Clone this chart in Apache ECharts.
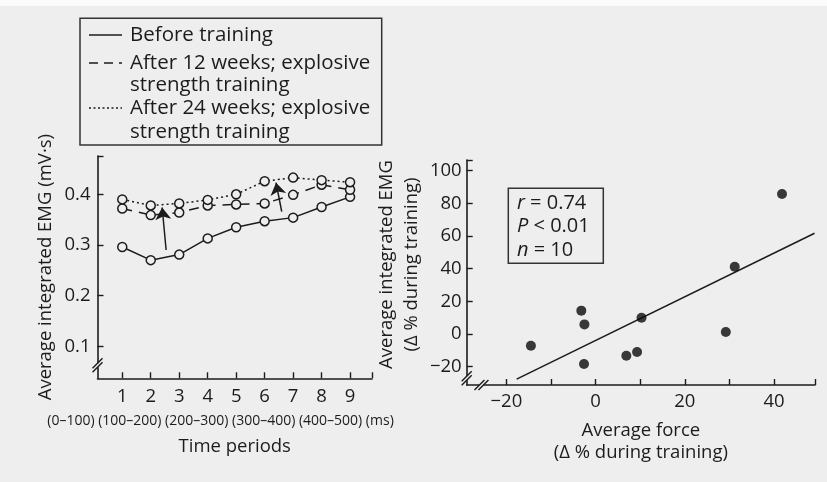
<!DOCTYPE html>
<html>
<head>
<meta charset="utf-8">
<script src="https://cdn.jsdelivr.net/npm/echarts@6/dist/echarts.min.js"></script>
<style>
  html, body { margin: 0; padding: 0; background: #eeeeee; }
  #top { height: 6px; background: #fbfbfb; }
  #chart { width: 827px; height: 476px; }
</style>
</head>
<body>
<div id="top"></div>
<div id="chart"></div>
<script>
// Left panel: integrated EMG per 50 ms time period
const periods = [1, 2, 3, 4, 5, 6, 7, 8, 9];
const beforeTraining = [0.296, 0.270, 0.281, 0.313, 0.335, 0.347, 0.354, 0.375, 0.395];
const after12Weeks   = [0.372, 0.359, 0.364, 0.378, 0.380, 0.382, 0.399, 0.419, 0.409];
const after24Weeks   = [0.390, 0.378, 0.382, 0.389, 0.400, 0.426, 0.433, 0.428, 0.424];
const emgTicks = [0.1, 0.2, 0.3, 0.4];
const periodRanges = '(0\u2013100) (100\u2013200) (200\u2013300) (300\u2013400) (400\u2013500) (ms)';
// arrows showing the training shift (tail -> head, in period / mV·s units)
const arrowTails = [[2.54, 0.290], [6.60, 0.366]];
const arrowHeads = [[2.40, 0.374], [6.40, 0.423]];

// Right panel: change in force vs change in EMG, one point per subject
const forceChange = [-14.5, -3.2, -2.5, -2.6, 6.9, 9.3, 10.3, 29.2, 31.2, 41.8];
const emgChange   = [-7.2, 14.3, 5.9, -18.4, -13.3, -11.0, 10.0, 1.2, 41.2, 85.7];
const fitLineX = [-17.7, 49.1];
const fitLineY = [-27.6, 61.7];
const forceTicks = [-20, 0, 20, 40];
const forceMinorTicks = [-20, -10, 0, 10, 20, 30, 40];
const emgChangeTicks = [-20, 0, 20, 40, 60, 80, 100];

const INK = '#1c1c1c';
const BG = '#eeeeee';
const FONT = '"Open Sans", "Noto Sans", sans-serif';

const chart = echarts.init(document.getElementById('chart'), null, { renderer: 'canvas' });

const L = { xMin: 0.13, xMax: 9.77, yMin: 0.0367, yMax: 0.4757 };
const R = { xMin: -28.9, xMax: 49.2, yMin: -31.2, yMax: 106.5 };

const minusFmt = v => (v < 0 ? '\u2212' + Math.abs(v) : String(v));
const pairs = (xs, ys) => xs.map((x, i) => [x, ys[i]]);

function axisBase(extra) {
  return Object.assign({
    type: 'value',
    splitLine: { show: false },
    axisLine: { show: true, onZero: false, lineStyle: { color: INK, width: 1.6 } },
    axisTick: { show: true, inside: true, length: 6, lineStyle: { color: INK, width: 1.4 } },
    axisLabel: { color: INK, fontFamily: FONT, fontSize: 18.5 },
    nameTextStyle: { color: INK, fontFamily: FONT, fontSize: 18.5 }
  }, extra);
}

const lineSeries = (name, values, dash) => ({
  name,
  type: 'line',
  xAxisIndex: 0, yAxisIndex: 0,
  data: pairs(periods, values),
  symbol: 'circle',
  symbolSize: 9,
  itemStyle: { color: BG, borderColor: INK, borderWidth: 1.5 },
  lineStyle: { color: INK, width: 1.5, type: dash },
  z: 3
});

const option = {
  backgroundColor: BG,
  animation: false,
  grid: [
    { left: 97.5, top: 150, width: 274.5, height: 222.3 },
    { left: 466.7, top: 154, width: 348.3, height: 225 }
  ],
  xAxis: [
    axisBase({
      gridIndex: 0, min: L.xMin, max: L.xMax,
      axisTick: { show: true, inside: true, length: 6, customValues: periods.concat([L.xMax]), lineStyle: { color: INK, width: 1.4 } },
      axisLabel: { color: INK, fontFamily: FONT, fontSize: 18.5, margin: 9, customValues: periods },
      name: 'Time periods', nameLocation: 'middle', nameGap: 59
    }),
    axisBase({
      gridIndex: 1, min: R.xMin, max: R.xMax,
      axisTick: { show: true, inside: true, length: 6, customValues: forceMinorTicks.concat([R.xMax]), lineStyle: { color: INK, width: 1.4 } },
      axisLabel: { color: INK, fontFamily: FONT, fontSize: 18.5, margin: 7, customValues: forceTicks, formatter: minusFmt },
      name: 'Average force\n(\u0394 % during training)', nameLocation: 'middle', nameGap: 35,
      nameTextStyle: { color: INK, fontFamily: FONT, fontSize: 18.5, lineHeight: 22 }
    })
  ],
  yAxis: [
    axisBase({
      gridIndex: 0, min: L.yMin, max: L.yMax,
      axisTick: { show: true, inside: true, length: 6, customValues: emgTicks.concat([L.yMax]), lineStyle: { color: INK, width: 1.4 } },
      axisLabel: { color: INK, fontFamily: FONT, fontSize: 18.5, margin: 7, customValues: emgTicks },
      name: 'Average integrated EMG (mV\u00b7s)', nameLocation: 'middle', nameGap: 42
    }),
    axisBase({
      gridIndex: 1, min: R.yMin, max: R.yMax,
      axisTick: { show: true, inside: true, length: 6, customValues: emgChangeTicks.concat([R.yMax]), lineStyle: { color: INK, width: 1.4 } },
      axisLabel: { color: INK, fontFamily: FONT, fontSize: 18.5, margin: 5, customValues: emgChangeTicks, formatter: minusFmt },
      name: 'Average integrated EMG\n(\u0394 % during training)', nameLocation: 'middle', nameGap: 42,
      nameTextStyle: { color: INK, fontFamily: FONT, fontSize: 18.5, lineHeight: 25, padding: [0, 0, 0, 16] }
    })
  ],
  series: [
    lineSeries('Before training', beforeTraining, 'solid'),
    lineSeries('After 12 weeks; explosive strength training', after12Weeks, [10, 7]),
    lineSeries('After 24 weeks; explosive strength training', after24Weeks, [2, 3]),
    {
      name: 'training shift',
      type: 'lines',
      coordinateSystem: 'cartesian2d',
      xAxisIndex: 0, yAxisIndex: 0,
      data: arrowTails.map((t, i) => ({ coords: [t, arrowHeads[i]] })),
      symbol: ['none', 'arrow'],
      symbolSize: 12,
      lineStyle: { color: INK, width: 1.5, opacity: 1 },
      z: 4
    },
    {
      name: 'regression',
      type: 'line',
      xAxisIndex: 1, yAxisIndex: 1,
      data: pairs(fitLineX, fitLineY),
      symbol: 'none',
      lineStyle: { color: INK, width: 1.5 },
      z: 2
    },
    {
      name: 'subjects',
      type: 'scatter',
      xAxisIndex: 1, yAxisIndex: 1,
      data: pairs(forceChange, emgChange),
      symbol: 'circle',
      symbolSize: 10,
      itemStyle: { color: '#0a0a0a' },
      z: 3
    }
  ]
};

chart.setOption(option);

// Decorations: legend box, statistics box, period ranges, axis break marks
function breakMarks(cx, cy, dir) {
  // two short parallel slashes across an axis with the axis hidden between them
  const els = [];
  const d = 4; // spacing between the slashes
  const off = dir === 'v' ? [0, d / 2] : [d / 2, 0];
  els.push({
    type: 'rect', shape: dir === 'v' ? { x: cx - 3, y: cy - d / 2, width: 6, height: d } : { x: cx - d / 2, y: cy - 3, width: d, height: 6 },
    style: { fill: BG }, z: 50
  });
  [-1, 1].forEach(s => {
    const ox = cx + s * off[0], oy = cy + s * off[1];
    els.push({
      type: 'line', shape: { x1: ox - 5, y1: oy + 5, x2: ox + 5, y2: oy - 5 },
      style: { stroke: INK, lineWidth: 1.4 }, z: 51
    });
  });
  return els;
}

const lb = chart.convertToPixel({ xAxisIndex: 0, yAxisIndex: 0 }, [L.xMin, 0.0625]);
const rbY = chart.convertToPixel({ xAxisIndex: 1, yAxisIndex: 1 }, [R.xMin, -27.0]);
const rbX = chart.convertToPixel({ xAxisIndex: 1, yAxisIndex: 1 }, [-25.6, R.yMin]);
const msPos = chart.convertToPixel({ xAxisIndex: 0, yAxisIndex: 0 }, [4.45, L.yMin]);

const legendText = { fill: INK, font: '20.5px ' + FONT, textVerticalAlign: 'middle' };
const legendItems = [
  { y: 29, dash: 'solid', text: 'Before training' },
  { y: 57, dash: [9, 6], text: 'After 12 weeks; explosive' },
  { y: 79, text: 'strength training' },
  { y: 102, dash: [2, 2.5], text: 'After 24 weeks; explosive' },
  { y: 126, text: 'strength training' }
];

const graphics = [
  {
    type: 'rect', shape: { x: 80, y: 12.3, width: 301.7, height: 126.7 },
    style: { fill: 'none', stroke: '#333', lineWidth: 1.5 }, z: 20
  },
  {
    type: 'rect', shape: { x: 508.3, y: 182.3, width: 95, height: 75 },
    style: { fill: 'none', stroke: '#333', lineWidth: 1.5 }, z: 20
  },
  {
    type: 'text', x: 517, y: 185.5,
    style: {
      text: '{i|r} = 0.74\n{i|P} < 0.01\n{i|n} = 10',
      fill: INK, font: '20px ' + FONT, lineHeight: 23.5, verticalAlign: 'top',
      rich: { i: { fontStyle: 'italic', fontSize: 20, fontFamily: FONT, fill: INK } }
    }, z: 21
  },
  {
    type: 'text', x: msPos[0], y: 415,
    style: { text: periodRanges, fill: INK, font: '14px ' + FONT, align: 'center', verticalAlign: 'middle' }, z: 21
  }
].concat(
  legendItems.map(it => ({
    type: 'text', x: 130, y: it.y, style: Object.assign({ text: it.text }, legendText), z: 21
  })),
  legendItems.filter(it => it.dash).map(it => ({
    type: 'line', shape: { x1: 89, y1: it.y, x2: 122, y2: it.y },
    style: { stroke: INK, lineWidth: 1.5, lineDash: it.dash === 'solid' ? null : it.dash }, z: 21
  })),
  breakMarks(lb[0], lb[1], 'v'),
  breakMarks(rbY[0], rbY[1], 'v'),
  breakMarks(rbX[0], rbX[1], 'h')
);

chart.setOption({ graphic: graphics });
</script>
</body>
</html>
